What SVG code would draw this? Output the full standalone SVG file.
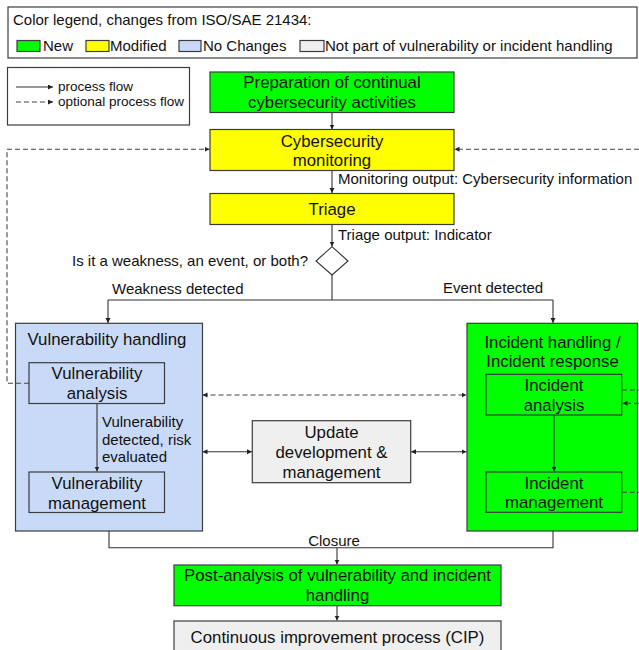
<svg xmlns="http://www.w3.org/2000/svg" width="639" height="650" viewBox="0 0 639 650">
<style>
text{font-family:"Liberation Sans",Arial,sans-serif;fill:#111}
.t15{font-size:15px}
.t13{font-size:13.5px}
.box{font-size:16.8px;text-anchor:middle}
.bx{stroke:#3c3c3c;stroke-width:1.2}
.g{fill:#00ff00}.y{fill:#ffff00}.b{fill:#c9daf8}.gr{fill:#efefef}.w{fill:#fff}
.ln{fill:none;stroke:#333;stroke-width:1.1}
.ds{fill:none;stroke:#444;stroke-width:1.1;stroke-dasharray:5,3}
</style>
<defs>
<marker id="a" markerUnits="userSpaceOnUse" markerWidth="6" markerHeight="6" refX="5" refY="2.5" orient="auto-start-reverse"><path d="M0,0 L5,2.5 L0,5 z" fill="#222"/></marker>
</defs>

<g id="legend">
<rect class="bx w" x="8" y="7" width="629" height="51"/>
<text class="t15" x="13" y="25">Color legend, changes from ISO/SAE 21434:</text>
<rect class="bx g" x="17" y="40.5" width="23" height="11"/>
<text class="t15" x="43" y="51">New</text>
<rect class="bx y" x="86" y="40.5" width="23" height="11"/>
<text class="t15" x="110" y="51">Modified</text>
<rect class="bx b" x="179" y="40.5" width="22" height="11"/>
<text class="t15" x="203" y="51">No Changes</text>
<rect class="bx gr" x="300" y="40.5" width="24" height="11"/>
<text class="t15" x="325" y="51">Not part of vulnerability or incident handling</text>
</g>

<g id="flow-legend">
<rect class="bx w" x="7.5" y="67.5" width="182" height="57.5"/>
<path class="ln" d="M16,87 H53" marker-end="url(#a)"/>
<path class="ds" d="M16,102 H53" marker-end="url(#a)"/>
<text class="t13" x="58" y="91">process flow</text>
<text class="t13" x="58" y="106">optional process flow</text>
</g>

<g id="connectors">
<path class="ln" d="M332,112.5 V129.5" marker-end="url(#a)"/>
<path class="ln" d="M332,171 V193" marker-end="url(#a)"/>
<path class="ln" d="M332,224.5 V246.5" marker-end="url(#a)"/>
<path class="ln" d="M332,275 V300 M108,300 H553"/>
<path class="ln" d="M108,300 V323" marker-end="url(#a)"/>
<path class="ln" d="M553,300 V323" marker-end="url(#a)"/>
<path class="ln" d="M202.5,451.7 H252" marker-start="url(#a)" marker-end="url(#a)"/>
<path class="ln" d="M411,451.7 H466.5" marker-start="url(#a)" marker-end="url(#a)"/>
<path class="ds" d="M202.5,395 H466.5" marker-start="url(#a)" marker-end="url(#a)"/>
<path class="ds" d="M29,383.3 H7 V149.3 H209.5" marker-end="url(#a)"/>
<path class="ds" d="M639,149.3 H454.5" marker-end="url(#a)"/>
<path class="ln" d="M109,531 V547.7 H553 V531"/>
<path class="ln" d="M337,547.7 V564.5" marker-end="url(#a)"/>
<path class="ln" d="M337,606 V620.5" marker-end="url(#a)"/>
</g>

<g id="preparation">
<rect class="bx g" x="210" y="72" width="244" height="40.5"/>
<text class="box" x="332" y="88">Preparation of continual</text>
<text class="box" x="332" y="108">cybersecurity activities</text>
</g>

<g id="monitoring">
<rect class="bx y" x="210" y="129.5" width="244" height="41"/>
<text class="box" x="332" y="147">Cybersecurity</text>
<text class="box" x="332" y="166">monitoring</text>
</g>

<g id="triage">
<rect class="bx y" x="210" y="193.5" width="244" height="31"/>
<text class="box" x="332" y="214.5">Triage</text>
</g>

<g id="decision">
<path class="ln" d="M332,246.7 L348,261 L332,275 L316,261 Z" fill="#fff"/>
</g>

<g id="vulnerability-handling">
<rect class="bx b" x="15.5" y="323.3" width="187" height="207.7"/>
<text class="box" x="107" y="345">Vulnerability handling</text>
</g>

<g id="incident-handling">
<rect class="bx g" x="467" y="323.3" width="170.5" height="207.7"/>
<text class="box" x="552.5" y="347.5">Incident handling /</text>
<text class="box" x="552.5" y="366.5">Incident response</text>
</g>

<g id="inner-connectors">
<path class="ln" d="M97,403.5 V471.5" marker-end="url(#a)"/>
<path class="ln" d="M554,415 V471.5" marker-end="url(#a)"/>
<path class="ds" d="M29,383.3 H15.5"/>
<path class="ds" d="M622,390 H639"/>
<path class="ds" d="M639,403.3 H622.5" marker-end="url(#a)"/>
<path class="ds" d="M622,492.3 H639"/>
</g>

<g id="vulnerability-analysis">
<rect class="bx b" x="29" y="362.7" width="135.5" height="40.8"/>
<text class="box" x="97" y="378.5">Vulnerability</text>
<text class="box" x="97" y="398.5">analysis</text>
</g>

<g id="vulnerability-management">
<rect class="bx b" x="29" y="472" width="135.5" height="40.5"/>
<text class="box" x="97" y="488.5">Vulnerability</text>
<text class="box" x="97" y="508.5">management</text>
</g>

<g id="update">
<rect class="bx gr" x="252.3" y="420.7" width="158.4" height="62"/>
<text class="box" x="331.5" y="437.5">Update</text>
<text class="box" x="331.5" y="457.5">development &amp;</text>
<text class="box" x="331.5" y="477.5">management</text>
</g>

<g id="incident-analysis">
<rect class="bx g" x="486" y="374.3" width="135.7" height="40.7"/>
<text class="box" x="554" y="391">Incident</text>
<text class="box" x="554" y="410.5">analysis</text>
</g>

<g id="incident-management">
<rect class="bx g" x="486" y="472" width="135.7" height="40.3"/>
<text class="box" x="554" y="488.5">Incident</text>
<text class="box" x="554" y="508">management</text>
</g>

<g id="post-analysis">
<rect class="bx g" x="174" y="565" width="327" height="40.7"/>
<text class="box" x="337.5" y="581">Post-analysis of vulnerability and incident</text>
<text class="box" x="337.5" y="601">handling</text>
</g>

<g id="cip">
<rect class="bx gr" x="174" y="621" width="327" height="40"/>
<text class="box" x="337.5" y="643">Continuous improvement process (CIP)</text>
</g>

<g id="labels">
<text class="t15" x="334" y="545.5" text-anchor="middle">Closure</text>
<text class="t15" x="338" y="183.5">Monitoring output: Cybersecurity information</text>
<text class="t15" x="338" y="240">Triage output: Indicator</text>
<text class="t15" x="308" y="265.5" text-anchor="end">Is it a weakness, an event, or both?</text>
<text class="t15" x="112" y="293.5">Weakness detected</text>
<text class="t15" x="443" y="292.5">Event detected</text>
<text class="t15" x="102" y="427">Vulnerability</text>
<text class="t15" x="102" y="444.5">detected, risk</text>
<text class="t15" x="102" y="462">evaluated</text>
</g>
</svg>
